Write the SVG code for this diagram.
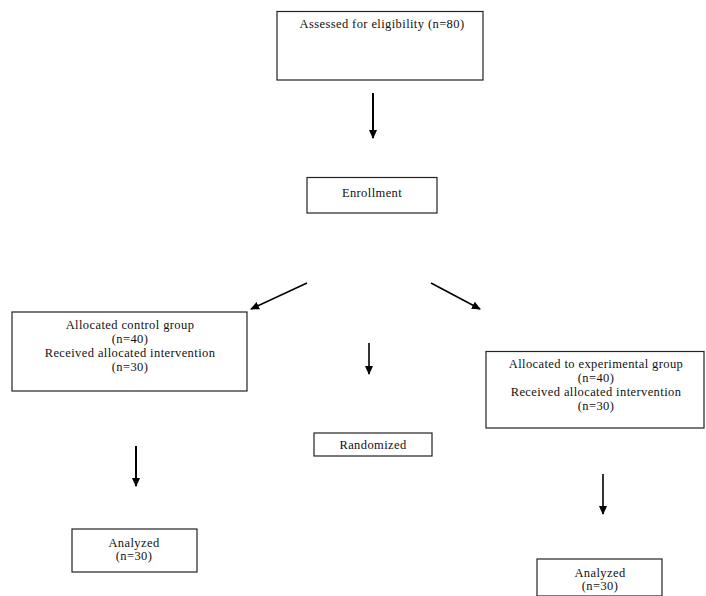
<svg xmlns="http://www.w3.org/2000/svg" width="706" height="596" viewBox="0 0 706 596">
<defs>
<marker id="ah" markerWidth="9" markerHeight="9" refX="8" refY="4.5" orient="auto" markerUnits="userSpaceOnUse">
<path d="M0,0.5 L9,4.5 L0,8.5 Z" fill="#000"/>
</marker>
</defs>
<style>
.box{fill:#fff;stroke:#222;stroke-width:1.2}
.t{font-family:"Liberation Serif","Times New Roman",serif;font-size:12.5px;letter-spacing:0.4px;fill:#111;text-anchor:middle}
.c{stroke:#000;fill:none;marker-end:url(#ah)}
</style>
<rect width="706" height="596" fill="#fff"/>
<g id="connectors">
<line class="c" x1="373" y1="93" x2="373" y2="138" stroke-width="2"/>
<line class="c" x1="307" y1="283" x2="251" y2="309" stroke-width="1.6"/>
<line class="c" x1="431" y1="283" x2="480" y2="309" stroke-width="1.6"/>
<line class="c" x1="369" y1="343" x2="369" y2="374" stroke-width="1.6"/>
<line class="c" x1="136" y1="446" x2="136" y2="486" stroke-width="2"/>
<line class="c" x1="603" y1="474" x2="603" y2="514" stroke-width="1.6"/>
</g>
<g id="assessed">
<rect class="box" x="277" y="11.5" width="206" height="68.5"/>
<text class="t" x="382" y="28">Assessed for eligibility (n=80)</text>
</g>
<g id="enrollment">
<rect class="box" x="307" y="177.5" width="130" height="35.5"/>
<text class="t" x="372" y="197">Enrollment</text>
</g>
<g id="control">
<rect class="box" x="12" y="312" width="235" height="79"/>
<text class="t" x="130" y="329">Allocated control group</text>
<text class="t" x="130" y="343">(n=40)</text>
<text class="t" x="130" y="357">Received allocated intervention</text>
<text class="t" x="130" y="371">(n=30)</text>
</g>
<g id="randomized">
<rect class="box" x="314" y="433" width="118" height="23"/>
<text class="t" x="373" y="449">Randomized</text>
</g>
<g id="experimental">
<rect class="box" x="486" y="351.5" width="218" height="76.5"/>
<text class="t" x="596" y="368">Allocated to experimental group</text>
<text class="t" x="596" y="382">(n=40)</text>
<text class="t" x="596" y="396">Received allocated intervention</text>
<text class="t" x="596" y="410">(n=30)</text>
</g>
<g id="analyzed-control">
<rect class="box" x="72" y="529" width="125" height="43"/>
<text class="t" x="134" y="547">Analyzed</text>
<text class="t" x="134" y="560">(n=30)</text>
</g>
<g id="analyzed-experimental">
<rect class="box" x="537" y="559" width="125" height="37"/>
<text class="t" x="600" y="577">Analyzed</text>
<text class="t" x="600" y="590">(n=30)</text>
</g>
</svg>
